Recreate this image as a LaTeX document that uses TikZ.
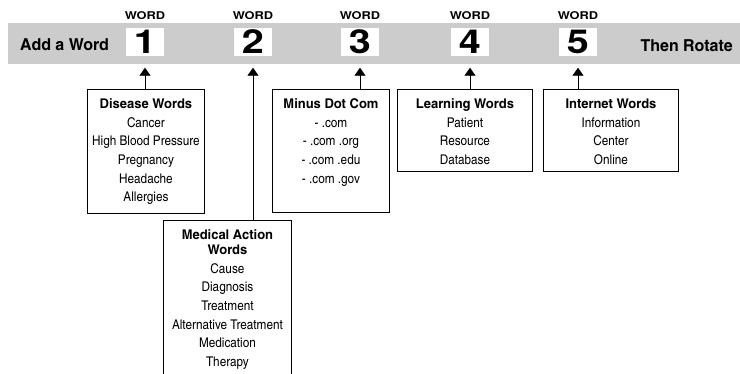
\documentclass[tikz,border=0pt]{standalone}
\usepackage{fontspec}
\setmainfont{TeX Gyre Heros}
\newfontfamily\narrowfont{texgyreheroscn}[Extension=.otf,UprightFont=*-regular,BoldFont=*-bold,
  UprightFeatures={FakeStretch=1.07},BoldFeatures={FakeStretch=1.18}]
\newfontfamily\widefont{TeX Gyre Heros}[FakeStretch=1.2]
\usetikzlibrary{arrows.meta}
\definecolor{bandgray}{gray}{0.8}
\newcommand\listtext[3]{\parbox[t][#2pt][t]{#1pt}{\centering
  \narrowfont\fontsize{13.4}{18.7}\selectfont\rule{0pt}{19pt}#3}}

\begin{document}
\begin{tikzpicture}[x=1pt,y=-1pt,
    listnode/.style={draw,line width=0.9pt,inner sep=0pt,anchor=north west},
    numbox/.style={fill=white,minimum width=38pt,minimum height=28pt,inner sep=0pt,
      font=\widefont\bfseries\fontsize{33}{33}\selectfont},
    wordlabel/.style={inner sep=0pt,font=\widefont\bfseries\fontsize{10.7}{12}\selectfont},
    bandlabel/.style={inner sep=0pt,font=\narrowfont\bfseries\fontsize{16.5}{18}\selectfont},
    link/.style={line width=0.9pt,-{Triangle[width=11pt,length=8pt]},shorten >=11.5pt}]

      \clip (0,0) rectangle (740,373);
      \fill [bandgray] (8,23) rectangle (740,64);
      \node [bandlabel,anchor=base west] (add) at (20,50.5) {Add a Word};
      \node [bandlabel,anchor=base east] (rotate) at (733,51) {Then Rotate};
      \foreach\n/\x in {1/145,2/253,3/360,4/470,5/578}
      {
        \node [numbox] (w\n) at (\x,42) {\n};
        \node [wordlabel] (l\n) at (\x,15.5) {WORD};
      }

      \node [listnode] (disease) at (87,89) {\listtext{117}{124}{\textbf{Disease Words}\\
        Cancer\\High Blood Pressure\\Pregnancy\\Headache\\Allergies}};
      \node [listnode] (medical) at (163,220) {\listtext{128}{170}{{\bfseries Medical Action\\[-3.7pt]
        Words}\\Cause\\Diagnosis\\Treatment\\Alternative Treatment\\Medication\\Therapy}};
      \node [listnode] (dotcom) at (272,89) {\listtext{117}{123}{\textbf{Minus Dot Com}\\
        - .com\\- .com .org\\- .com .edu\\- .com .gov}};
      \node [listnode] (learning) at (397,89) {\listtext{135}{82}{\textbf{Learning Words}\\
        Patient\\Resource\\Database}};
      \node [listnode] (internet) at (543,89) {\listtext{135}{82}{\textbf{Internet Words}\\
        Information\\Center\\Online}};

      \draw [link] (disease.north -| w1) -- (w1.south);
      \draw [link] (medical.north -| w2) -- (w2.south);
      \draw [link] (dotcom.north -| w3) -- (w3.south);
      \draw [link] (learning.north -| w4) -- (w4.south);
      \draw [link] (internet.north -| w5) -- (w5.south);

    \end{tikzpicture}
\end{document}
